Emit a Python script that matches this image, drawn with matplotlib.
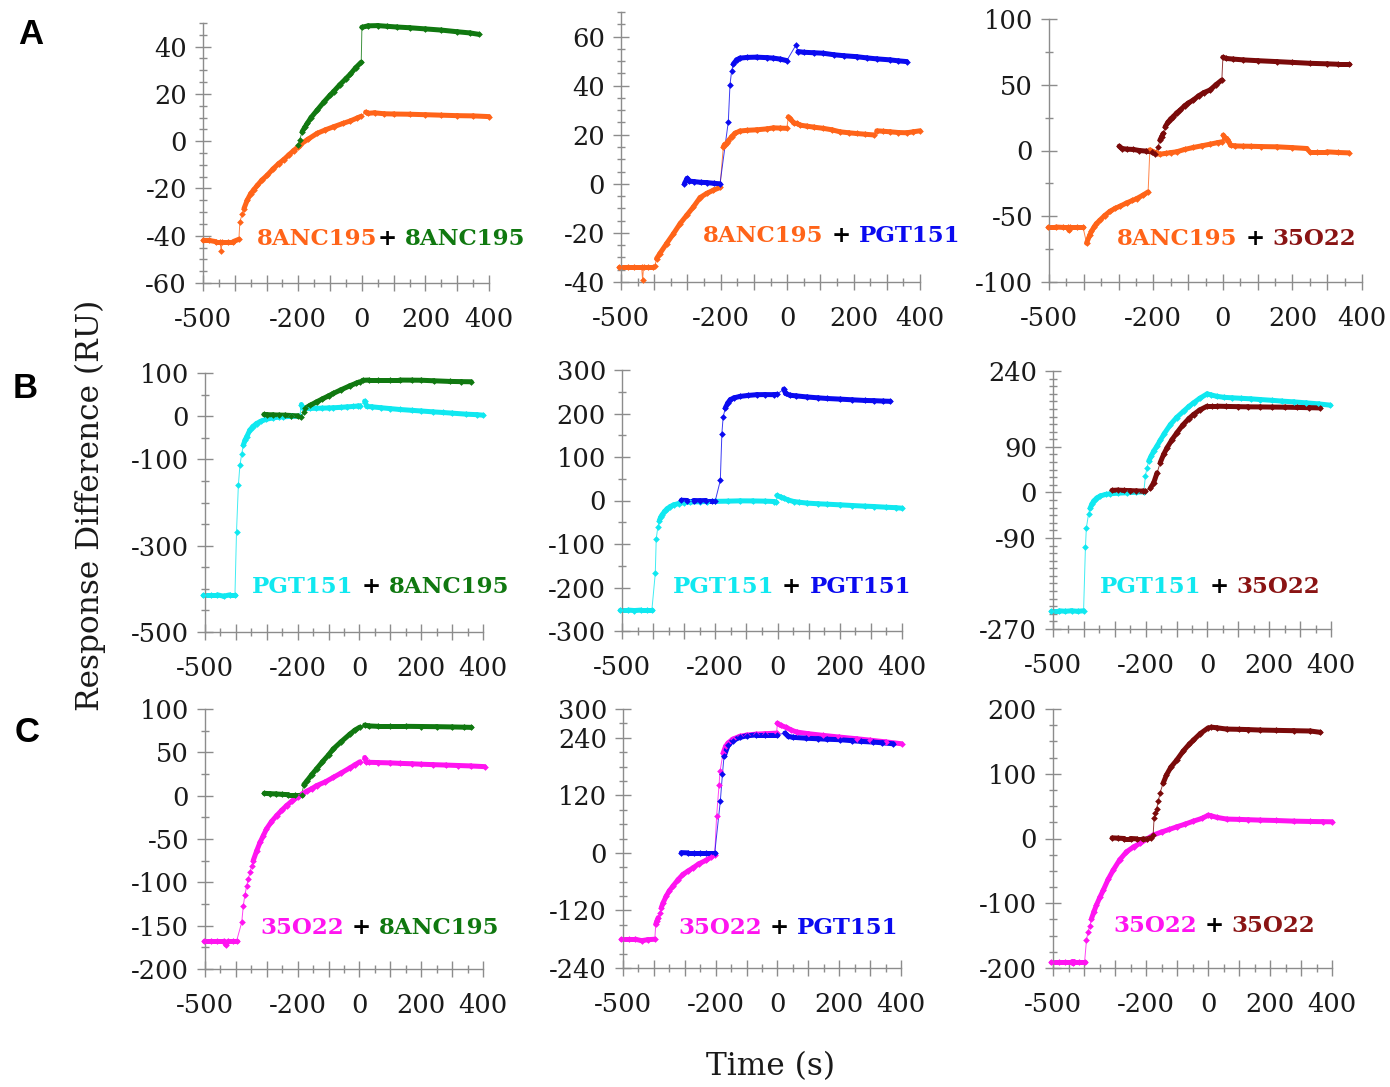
import matplotlib
matplotlib.use("Agg")
import matplotlib.pyplot as plt
import numpy as np
from matplotlib.collections import LineCollection
from matplotlib.ticker import MultipleLocator, FuncFormatter

W, H = 1390, 1087

# colours
ORANGE = "#FF6419"
GREEN = "#107810"
BLUE = "#0A0AF0"
CYAN = "#10E8F0"
MAGENTA = "#FF14F0"
DARKRED = "#7A0A0A"
DARKRED_TXT = "#8A1414"

# ---------------- data (time in s, response in RU), one sub-list per phase ----------------
# A: 8ANC195 first
a1_orange_t = [[-500, -480, -460, -446, -443, -440, -420, -405, -387],
               [-384, -376, -371, -361, -350, -340, -329, -315, -298, -280, -262, -246, -230, -215, -201,
                -195, -170, -141, -115, -89, -60, -36, -15, -3],
               [12, 20, 40, 70, 100, 150, 200, 250, 300, 350, 400]]
a1_orange_y = [[-42, -42, -42.5, -42.5, -46.5, -42.5, -42.5, -42.5, -41.5],
               [-34, -30.7, -28.5, -25, -22.2, -20.5, -18.7, -16.5, -14.4, -11.8, -9.5, -7.8, -5.8, -4, -2.4,
                -1.5, 0.8, 3.3, 4.8, 6.1, 7.5, 8.6, 9.8, 10.5],
               [12.3, 11.8, 12, 11.6, 11.5, 11.4, 11.2, 11, 10.8, 10.7, 10.4]]
a1_green_t = [[-200, -196, -188, -180, -172, -160, -141, -120, -100, -89, -70, -50, -36, -20, -2],
              [0, 20, 50, 80, 110, 150, 200, 250, 300, 340, 368]]
a1_green_y = [[-1.5, 0.5, 4, 5.8, 7.5, 10, 13.1, 16.5, 19.5, 21, 23.8, 26.5, 28.4, 31, 33.4],
              [48.2, 48.8, 48.9, 48.6, 48.3, 48, 47.5, 47, 46.3, 45.8, 45.2]]

a2_orange_t = [[-505, -480, -460, -438, -435, -432, -420, -403],
               [-398, -393, -383, -363, -342, -322, -302, -282, -262, -242, -222, -202],
               [-192, -188, -182, -177, -167, -157, -142, -120, -92, -60, -41, -20, -1],
               [4, 10, 20, 29, 40, 59, 80, 109, 135, 159, 185, 209, 235, 262],
               [270, 290, 310, 335, 360, 380, 400]]
a2_orange_y = [[-33.8, -33.8, -33.8, -33.8, -39, -33.8, -33.8, -33.8],
               [-33.5, -30.5, -28.4, -24.4, -20.3, -16.2, -12.8, -9.4, -5.6, -3.9, -2.6, -1.5],
               [15.1, 16, 16.5, 17.5, 19.2, 20.6, 21.5, 21.8, 22, 22.4, 22.8, 22.7, 22.6],
               [27.3, 26.5, 24.8, 24.6, 23.9, 23.5, 23.1, 22.6, 22, 21.2, 20.8, 20.5, 20.2, 19.9],
               [21.6, 21.4, 21.2, 20.9, 20.8, 21.2, 21.6]]
a2_blue_t = [[-309, -301, -295, -280, -260, -242, -220, -202],
             [-177, -172, -167, -162, -152, -142, -120, -92, -60, -41, -20, -1],
             [27, 33, 50, 80, 109, 140, 170, 209, 240, 270, 310, 335, 360]]
a2_blue_y = [[0.1, 2.2, 1.1, 0.9, 0.6, 0.5, 0.2, 0],
             [25.3, 40.3, 46, 48.8, 50.5, 51.2, 51.5, 51.6, 51.4, 51.2, 50.8, 50.2],
             [56.6, 53.9, 53.6, 53.4, 53.2, 52.6, 52.2, 51.8, 51.3, 50.9, 50.5, 50.1, 49.8]]

a3_orange_t = [[-503, -480, -460, -445, -442, -439, -420, -402],
               [-392, -383, -378, -370, -364, -354, -340, -325, -310, -296, -277, -260, -248, -230, -215],
               [-210, -200, -190, -181, -165, -150, -133, -110, -85, -60, -37, -15, -3],
               [1, 6, 11, 16, 22, 35, 59, 80, 110, 155, 200, 242],
               [250, 270, 299, 330, 362]]
a3_orange_y = [[-58.2, -58.2, -58.5, -58.5, -60.7, -58.5, -58.5, -58.5],
               [-70.4, -64.5, -61.5, -58, -55.7, -53.1, -49.5, -46.3, -44, -42.4, -39.9, -38, -36.6, -34, -31.5],
               [0.5, -1, -2, -2.8, -2.2, -1.6, -1, 0.8, 2.3, 3.6, 4.8, 6, 6.6],
               [11.7, 9.5, 9.1, 7, 4, 3.5, 3.3, 3.2, 3, 2.8, 2.2, 1.5],
               [-1, -1, -1, -1.5, -1.8]]
a3_red_t = [[-298, -290, -275, -258, -240, -220, -205, -195],
            [-186, -181, -176, -171, -166, -158, -150, -143, -133, -123, -110, -100, -85, -70, -55, -37, -20, -3],
            [0, 10, 30, 59, 100, 155, 200, 251, 300, 330, 362]]
a3_red_y = [[3.3, 1.5, 1, 0.8, 0, -0.5, -1, -2.3],
            [2.8, 7.9, 10.5, 13, 18, 21.5, 24, 25.7, 28.5, 30.7, 34, 36, 38.4, 41.5, 44, 46, 50, 53.6],
            [70.9, 70, 69.5, 68.9, 68.3, 67.6, 67, 66.3, 65.9, 65.6, 65.6]]

# B: PGT151 first
b1_cyan_t = [[-505, -480, -460, -440, -420, -403],
             [-398, -392, -387, -381, -376, -370, -365, -355, -345, -333, -320, -301, -280, -260, -247, -220, -193],
             [-188, -184, -177, -160, -140, -120, -100, -85, -60, -40, -20, -5, 1],
             [17, 24, 40, 70, 100, 130, 170, 200, 238, 270, 300, 346, 380, 400]]
b1_cyan_y = [[-414, -414, -414, -417, -414, -414],
             [-268, -160, -114, -87, -67, -55, -48, -32.5, -24, -17, -12, -7, -4, -2, -1.5, -0.5, 0],
             [27, 19, 17.8, 18, 18.3, 18.6, 19, 19.4, 20.5, 21.5, 22.5, 23.5, 24],
             [34.8, 22.5, 21.7, 19.5, 17.5, 15.5, 13.5, 12, 10, 8.5, 7, 4.6, 3.5, 2.3]]
b1_green_t = [[-309, -300, -280, -260, -240, -220, -200, -190],
              [-180, -177, -160, -139, -120, -100, -85, -60, -31, -10, 1],
              [10, 30, 60, 100, 130, 170, 200, 240, 292, 330, 362]]
b1_green_y = [[3.9, 3.5, 3, 2.5, 2.3, 1.5, 0.5, -1.5],
              [10, 17.8, 25, 33, 40, 47, 52.6, 61, 70.4, 76.5, 79.7],
              [83, 83.6, 83.6, 83.6, 83.6, 83.4, 83.2, 82, 80.5, 80, 79.7]]

b2_cyan_t = [[-505, -480, -460, -440, -420, -404],
             [-393, -390, -385, -380, -376, -371, -363, -355, -345, -334, -318, -302, -280, -250, -227, -200,
              -160, -120, -80, -40, -12, -4],
             [-2, 10, 20, 35, 52, 70, 95, 130, 160, 202, 240, 280, 309, 350, 380, 400]]
b2_cyan_y = [[-252, -252, -253, -252, -252, -252],
             [-167, -88, -62, -46, -39, -33, -25, -19, -14, -10, -7, -4.6, -3.5, -2.8, -2.3, -2,
              -1.5, -0.8, -1, -1.5, -2.3, -3.8],
             [11.5, 8, 5.4, 1, -2.3, -4, -6, -7.5, -8.5, -10, -11.5, -13, -13.8, -15.5, -16.5, -17.7]]
b2_blue_t = [[-309, -290, -270, -250, -230, -210, -200],
             [-184, -179, -175, -168, -160, -152, -140, -120, -95, -66, -40, -12, -2],
             [20, 26, 40, 60, 95, 130, 160, 202, 240, 280, 309, 340, 362]]
b2_blue_y = [[0.5, 0, 0, -0.5, 0, 0, 0],
             [46, 153.5, 191, 212.6, 224, 231.8, 236, 239.4, 241.5, 243.3, 243.5, 243.3, 244],
             [256, 246, 242, 240.5, 238, 236, 234.5, 233, 231.5, 230, 229.5, 228.5, 228]]

b3_cyan_t = [[-508, -480, -460, -440, -420, -401],
             [-395, -392, -385, -380, -374, -368, -358, -347, -330, -314, -290, -260, -230, -206],
             [-201, -196, -190, -182, -174, -163, -153, -140, -120, -100, -77, -60, -45, -25, -1,
              10, 30, 53, 80, 110, 140, 171, 210, 240, 279, 320, 360, 398]]
b3_cyan_y = [[-234, -234, -235, -234, -235, -234],
             [-108, -70, -43, -31.6, -23, -17, -11, -7, -4, -2.6, -1.5, -0.7, 0.5, 1.3],
             [32, 48, 62, 72, 81.6, 92, 102.7, 116, 134, 148, 160.6, 170, 177, 186, 194.8,
              193, 190, 188, 187, 186, 185, 183.6, 182, 180.5, 179, 177, 175, 172.4]]
b3_red_t = [[-309, -290, -270, -250, -230, -210, -201],
            [-185, -174, -163, -153, -142, -131, -115, -99, -80, -60, -45, -25, -1,
             15, 31, 60, 100, 130, 171, 210, 250, 290, 330, 365]]
b3_red_y = [[4, 4.5, 4, 3.5, 3, 2.5, 2.6],
            [8, 19, 38.8, 58.6, 75, 88, 104, 117.8, 133, 146, 154, 163, 170.4,
             170.4, 170.4, 170, 169.5, 169.2, 169, 168.7, 168.5, 168, 167.5, 167]]

# C: 35O22 first
c1_mag_t = [[-503, -480, -460, -440, -432, -425, -410, -398],
            [-381, -376, -371, -365, -360, -354, -349, -344, -333, -322, -311, -301, -285, -268, -252, -236,
             -218, -198, -185, -171, -155, -139, -110, -85, -60, -31, -15, 1],
            [17, 22, 30, 60, 100, 130, 170, 200, 238, 280, 320, 360, 405]]
c1_mag_y = [[-168, -168, -168, -168, -172, -168, -168, -168],
            [-146, -127, -115, -104, -96, -88.5, -81, -75, -64, -54, -46, -38.5, -30, -23, -17, -11.5,
             -6, -1.2, 2, 5, 8, 11.5, 16, 21, 26, 32, 35.5, 39],
            [44, 39, 38.5, 38.2, 37.8, 37.3, 36.8, 36.3, 35.8, 35.3, 34.8, 34.3, 33.5]]
c1_green_t = [[-308, -290, -270, -250, -230, -210, -187],
              [-180, -170, -155, -139, -120, -100, -85, -60, -31, -15, 1],
              [17, 30, 60, 100, 150, 200, 250, 300, 340, 362]]
c1_green_y = [[2.7, 2.3, 2, 1.5, 1.2, 1.2, 1.2],
              [12.7, 17, 24, 30.8, 39, 47, 53.8, 62, 71, 75.5, 79],
              [81.5, 80.5, 80, 80, 80, 79.8, 79.6, 79.3, 79, 78.8]]

c2_mag_t = [[-505, -480, -460, -440, -420, -397],
            [-394, -390, -386, -381, -376, -370, -360, -350, -338, -322, -306, -290, -273, -255, -230, -215, -203],
            [-197, -189, -186, -176, -168, -160, -145, -122, -100, -68, -40, -3],
            [0, 10, 29, 45, 62, 100, 148, 200, 256, 300, 350, 402]]
c2_mag_y = [[-180, -180, -180, -183, -181, -180],
            [-149, -142, -135, -125, -114, -104, -90, -79, -69, -56, -45, -38, -31, -23, -15, -9, -3.5],
            [76, 142, 170, 208, 222, 229, 237, 243, 245.5, 247.6, 248.5, 249.7],
            [270.5, 266, 261.5, 256, 252, 248.5, 245, 241.5, 238, 235, 231.5, 227.5]]
c2_blue_t = [[-311, -290, -270, -250, -230, -203],
             [-185, -178, -173, -160, -145, -122, -100, -68, -40, -3],
             [24, 35, 50, 94, 130, 160, 202, 240, 270, 310, 340, 375]]
c2_blue_y = [[0.5, 0, 0, 0, 0, 0],
             [107.5, 165, 201, 224, 234, 240.7, 244, 246, 246, 246],
             [249.7, 243, 241, 239, 238, 237, 236, 234, 232.5, 231, 229.5, 227.5]]

c3_mag_t = [[-505, -480, -460, -438, -435, -432, -415, -398],
            [-392, -387, -381, -376, -368, -360, -349, -338, -322, -306, -285, -263, -240, -220, -198, -177,
             -150, -125, -101, -75, -47, -20, 1, 10, 30, 60, 100, 130, 168, 220, 276, 330, 370, 400]]
c3_mag_y = [[-190, -190, -190, -190, -193, -190, -190, -190],
            [-157, -144, -135, -124, -113, -103, -91, -80, -63, -49, -33, -20.6, -13, -7.7, -1, 5.2,
             10, 14, 18, 22, 26.8, 31, 36, 35, 32.5, 30, 29.5, 29, 28.4, 27.8, 26.8, 26.3, 26, 25.8]]
c3_red_t = [[-309, -290, -270, -250, -230, -210, -198, -185],
            [-177, -174, -170, -166, -160, -155, -145, -134, -120, -101, -80, -60, -47, -25, 1],
            [10, 28, 60, 100, 130, 168, 220, 276, 330, 362]]
c3_red_y = [[1, 0.5, 0, 0, -0.5, -0.5, -1, 1],
            [5, 31, 40, 46, 58, 70, 85, 98, 110, 121, 135, 146, 152, 162, 171],
            [172, 171, 169, 168.6, 168.2, 167.5, 167, 166.5, 166, 164]]

# axis ticks
x_labels = [-500, -200, 0, 200, 400]
a1_yticks, a2_yticks, a3_yticks = [40, 20, 0, -20, -40, -60], [60, 40, 20, 0, -20, -40], [100, 50, 0, -50, -100]
b1_yticks, b2_yticks, b3_yticks = [100, 0, -100, -300, -500], [300, 200, 100, 0, -100, -200, -300], [240, 90, 0, -90, -270]
c1_yticks, c2_yticks, c3_yticks = [100, 50, 0, -50, -100, -150, -200], [300, 240, 120, 0, -120, -240], [200, 100, 0, -100, -200]

fig = plt.figure(figsize=(W / 100, H / 100), dpi=100)

SERIF = "DejaVu Serif"
GRAY = "#8C8C8C"
TXT = "#1A1A1A"


def make_axes(left, right, top, bottom, ylim, yticks, yminor):
    ax = fig.add_axes([left / W, 1 - bottom / H, (right - left) / W, (bottom - top) / H])
    ax.set_xlim(-500, 400)
    ax.set_ylim(*ylim)
    for s in ["top", "right"]:
        ax.spines[s].set_visible(False)
    for s in ["left", "bottom"]:
        ax.spines[s].set_color(GRAY)
        ax.spines[s].set_linewidth(1.0)
    ax.patch.set_alpha(0)
    ax.xaxis.set_major_locator(MultipleLocator(100))
    ax.xaxis.set_minor_locator(MultipleLocator(50))
    ax.xaxis.set_major_formatter(FuncFormatter(lambda v, p: "%d" % v if int(round(v)) in x_labels else ""))
    ax.set_yticks(yticks)
    ax.set_yticklabels(["%d" % v for v in yticks])
    ax.yaxis.set_minor_locator(MultipleLocator(yminor))
    ax.tick_params(which="major", direction="inout", length=11, width=1, color=GRAY,
                   labelsize=18.5, labelcolor=TXT)
    ax.tick_params(axis="y", which="major", pad=6)
    ax.tick_params(axis="x", which="major", pad=12)
    ax.tick_params(which="minor", direction="inout", length=6, width=1, color=GRAY)
    for lab in ax.get_xticklabels() + ax.get_yticklabels():
        lab.set_fontfamily(SERIF)
    return ax


def draw_series(ax, ts, ys, color):
    all_t = np.concatenate([np.asarray(t, float) for t in ts])
    all_y = np.concatenate([np.asarray(y, float) for y in ys])
    # thin connecting line and diamond markers at every reading
    ax.plot(all_t, all_y, "-", lw=0.7, color=color, alpha=0.8, zorder=2, clip_on=False)
    ax.plot(all_t, all_y, "D", ms=3.4, mew=0, color=color, zorder=3, clip_on=False)
    # dense stretches (not steep, inside a phase) look like a solid band of points
    segs = []
    for t, y in zip(ts, ys):
        pts = ax.transData.transform(np.column_stack([t, y]))
        d = np.diff(pts, axis=0)
        for i in range(len(d)):
            if abs(d[i, 1]) <= 3 * abs(d[i, 0]):
                segs.append([(t[i], y[i]), (t[i + 1], y[i + 1])])
    lc = LineCollection(segs, colors=color, linewidths=3.6, capstyle="round", zorder=2.5)
    lc.set_clip_on(False)
    ax.add_collection(lc)


panels = [
    ((203, 489, 23, 283), (-60, 50), a1_yticks, 5,
     [(a1_orange_t, a1_orange_y, ORANGE), (a1_green_t, a1_green_y, GREEN)],
     (257, 239), [("8ANC195", ORANGE), ("+ ", "black"), ("8ANC195", GREEN)]),
    ((621, 920, 12, 282), (-40, 70), a2_yticks, 5,
     [(a2_orange_t, a2_orange_y, ORANGE), (a2_blue_t, a2_blue_y, BLUE)],
     (703, 236), [("8ANC195", ORANGE), (" + ", "black"), ("PGT151", BLUE)]),
    ((1049, 1362, 19, 282), (-100, 100), a3_yticks, 25,
     [(a3_orange_t, a3_orange_y, ORANGE), (a3_red_t, a3_red_y, DARKRED)],
     (1117, 239), [("8ANC195", ORANGE), (" + ", "black"), ("35O22", DARKRED_TXT)]),
    ((205, 483, 373, 632), (-500, 100), b1_yticks, 50,
     [(b1_cyan_t, b1_cyan_y, CYAN), (b1_green_t, b1_green_y, GREEN)],
     (252, 587), [("PGT151", CYAN), (" + ", "black"), ("8ANC195", GREEN)]),
    ((622, 902, 370, 631), (-300, 300), b2_yticks, 50,
     [(b2_cyan_t, b2_cyan_y, CYAN), (b2_blue_t, b2_blue_y, BLUE)],
     (673, 587), [("PGT151", CYAN), (" + ", "black"), ("PGT151", BLUE)]),
    ((1053, 1331, 371, 629), (-270, 240), b3_yticks, 15,
     [(b3_cyan_t, b3_cyan_y, CYAN), (b3_red_t, b3_red_y, DARKRED)],
     (1100, 587), [("PGT151", CYAN), (" + ", "black"), ("35O22", DARKRED_TXT)]),
    ((205, 483, 709, 969), (-200, 100), c1_yticks, 25,
     [(c1_mag_t, c1_mag_y, MAGENTA), (c1_green_t, c1_green_y, GREEN)],
     (260, 928), [("35O22", MAGENTA), (" + ", "black"), ("8ANC195", GREEN)]),
    ((623, 901, 709, 968), (-240, 300), c2_yticks, 30,
     [(c2_mag_t, c2_mag_y, MAGENTA), (c2_blue_t, c2_blue_y, BLUE)],
     (678, 928), [("35O22", MAGENTA), (" + ", "black"), ("PGT151", BLUE)]),
    ((1053, 1332, 709, 968), (-200, 200), c3_yticks, 25,
     [(c3_mag_t, c3_mag_y, MAGENTA), (c3_red_t, c3_red_y, DARKRED)],
     (1113, 926), [("35O22", MAGENTA), (" + ", "black"), ("35O22", DARKRED_TXT)]),
]

for rect, ylim, yticks, yminor, series, (lx, ly), words in panels:
    ax = make_axes(*rect, ylim, yticks, yminor)
    for ts, ys, col in series:
        draw_series(ax, ts, ys, col)
    # coloured label, words chained one after another
    prev = fig.text(lx / W, 1 - ly / H, words[0][0], color=words[0][1], fontsize=16.5,
                    fontweight="bold", family=SERIF, ha="left", va="center")
    for w, c in words[1:]:
        prev = ax.annotate(w, xy=(1, 0.5), xycoords=prev, color=c, fontsize=16.5,
                           fontweight="bold", family=SERIF, ha="left", va="center",
                           annotation_clip=False)

# panel letters and shared axis titles
for letter, (px, py) in zip("ABC", [(31, 35), (25, 388), (27, 732)]):
    fig.text(px / W, 1 - py / H, letter, fontsize=25, fontweight="bold",
             family="Liberation Sans", ha="center", va="center")
fig.text(90 / W, 1 - 505 / H, "Response Difference (RU)", rotation=90, fontsize=22.5,
         family=SERIF, ha="center", va="center", color=TXT)
fig.text(771 / W, 1 - 1067 / H, "Time (s)", fontsize=22.5, family=SERIF,
         ha="center", va="center", color=TXT)

fig.savefig("out.png", dpi=100)
